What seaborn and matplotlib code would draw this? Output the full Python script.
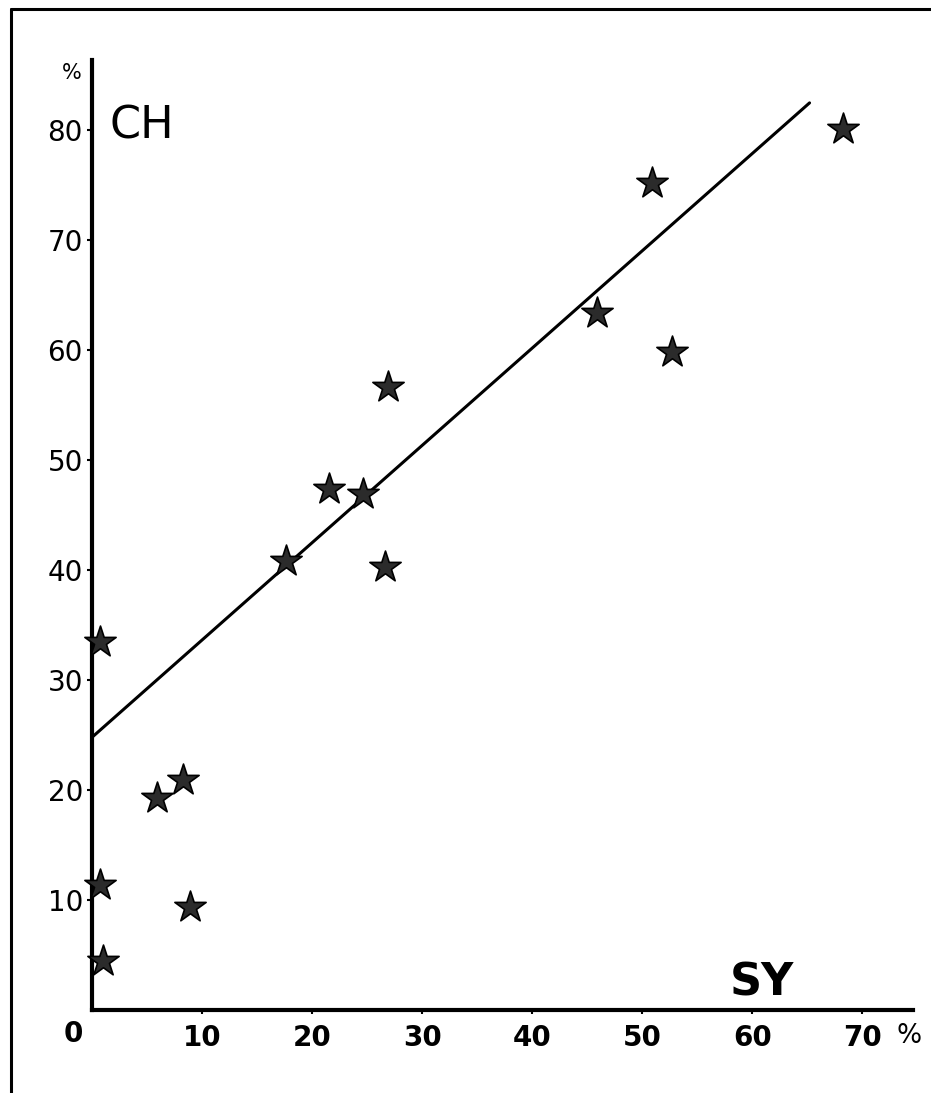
import matplotlib
matplotlib.use("Agg")
import matplotlib.pyplot as plt
import seaborn as sns
import pandas as pd
from matplotlib.lines import Line2D

# data (SY % vs CH %)
sy = [0.7, 5.9, 8.3, 0.7, 8.9, 1.0, 17.6, 21.5, 24.6, 26.6, 26.9,
      45.9, 50.9, 52.7, 68.2]
ch = [33.5, 19.3, 20.9, 11.4, 9.4, 4.5, 40.8, 47.4, 46.9, 40.3, 56.7,
      63.4, 75.2, 59.8, 80.1]

# regression line end points
fit_x = [0.0, 65.2]
fit_y = [24.8, 82.5]

x_ticks = [10, 20, 30, 40, 50, 60, 70]
y_ticks = [10, 20, 30, 40, 50, 60, 70, 80]

sns.set_style("white")
plt.rcParams["font.family"] = ["DejaVu Sans"]
plt.rcParams["text.color"] = "black"
plt.rcParams["xtick.color"] = "black"
plt.rcParams["ytick.color"] = "black"

fig = plt.figure(figsize=(9.31, 10.93), dpi=100)
ax = fig.add_axes([92 / 931, 1 - 1010 / 1093, 821 / 931, 950 / 1093])

df = pd.DataFrame({"SY": sy, "CH": ch})
fit = pd.DataFrame({"SY": fit_x, "CH": fit_y})

sns.lineplot(data=fit, x="SY", y="CH", color="black", linewidth=2.2, ax=ax)
sns.scatterplot(data=df, x="SY", y="CH", marker="*", s=560, color="#2b2b2b",
                edgecolor="black", linewidth=1.2, ax=ax, zorder=3, clip_on=False)

ax.set_xlim(0, 74.6)
ax.set_ylim(0, 86.4)
ax.set_xlabel("")
ax.set_ylabel("")

for side in ["top", "right"]:
    ax.spines[side].set_visible(False)
for side in ["left", "bottom"]:
    ax.spines[side].set_linewidth(3)
    ax.spines[side].set_color("black")

ax.set_xticks(x_ticks)
ax.set_yticks(y_ticks)
ax.tick_params(axis="x", direction="out", length=3, width=1.5, pad=7,
               labelsize=20, bottom=True, colors="black")
ax.tick_params(axis="y", direction="out", length=3.5, width=1.5, pad=3,
               labelsize=20, left=True, colors="black")
for lab in ax.get_xticklabels():
    lab.set_fontweight("bold")

# extra labels
ax.text(-1.7, -2.2, "0", fontsize=20, fontweight="bold", ha="center",
        va="center", clip_on=False)
ax.text(74.2, -2.4, "%", fontsize=19, ha="center", va="center", clip_on=False)
ax.text(-1.8, 85.2, "%", fontsize=15, ha="center", va="center", clip_on=False)
ax.text(1.6, 80.4, "CH", fontsize=32, ha="left", va="center")
ax.text(60.9, 2.5, "SY", fontsize=32, fontweight="bold", ha="center",
        va="center")

# page frame of the scan
fig.add_artist(Line2D([11 / 931, 1.0], [1 - 9 / 1093, 1 - 9 / 1093],
                      color="black", linewidth=2.2))
fig.add_artist(Line2D([11 / 931, 11 / 931], [0.0, 1 - 9 / 1093],
                      color="black", linewidth=2.2))

fig.savefig("out.png", dpi=100, facecolor="white")
